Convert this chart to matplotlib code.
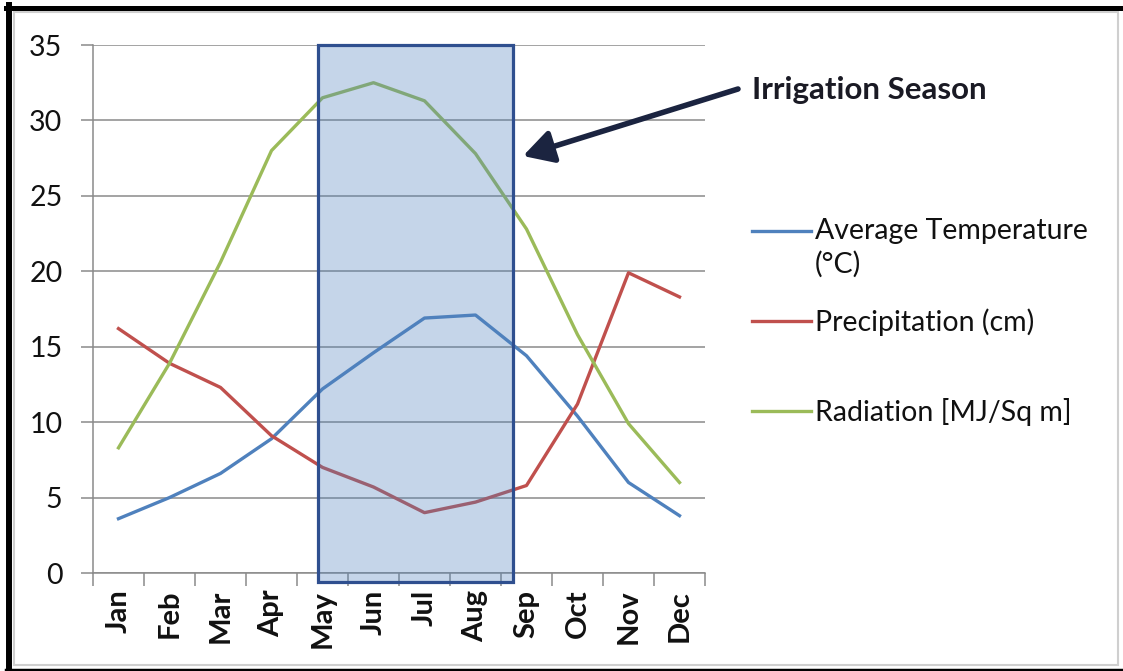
import matplotlib.pyplot as plt
from matplotlib.patches import Rectangle, FancyArrowPatch
from matplotlib.lines import Line2D

plt.rcParams['font.family'] = ['Lato', 'DejaVu Sans']

months = ['Jan', 'Feb', 'Mar', 'Apr', 'May', 'Jun',
          'Jul', 'Aug', 'Sep', 'Oct', 'Nov', 'Dec']
temperature = [3.6, 5.0, 6.6, 8.9, 12.2, 14.6, 16.9, 17.1, 14.4, 10.4, 6.0, 3.8]
precipitation = [16.2, 13.9, 12.3, 9.1, 7.0, 5.7, 4.0, 4.7, 5.8, 11.2, 19.9, 18.3]
radiation = [8.3, 13.9, 20.6, 28.0, 31.5, 32.5, 31.3, 27.8, 22.8, 15.8, 9.9, 6.0]

series_labels = ['Average Temperature\n(°C)', 'Precipitation (cm)', 'Radiation [MJ/Sq m]']
series_colors = ['#4F81BD', '#C0504D', '#9BBB59']

W, H = 1123, 671
fig = plt.figure(figsize=(W / 100, H / 100), dpi=100)
fig.patch.set_facecolor('white')

def fx(px):
    return px / W

def fy(py):
    return 1 - py / H

ax = fig.add_axes([fx(93), fy(573), fx(705) - fx(93), fy(45) - fy(573)])

x = list(range(len(months)))
for vals, col in zip([temperature, precipitation, radiation], series_colors):
    ax.plot(x, vals, color=col, lw=2.4, solid_joinstyle='round', zorder=3)

ax.set_xlim(-0.5, 11.5)
ax.set_ylim(0, 35)
ax.set_yticks(range(0, 36, 5))
ax.yaxis.grid(True, color='#8a8a8a', lw=1.1)
ax.set_axisbelow(True)
ax.set_xticks(x)
ax.set_xticklabels(months, rotation=90, fontsize=21, fontweight='bold', color='#111111')
ax.set_xticks([i - 0.5 for i in range(13)], minor=True)
ax.tick_params(axis='x', which='major', length=0, pad=12)
ax.tick_params(axis='x', which='minor', length=9, color='#8a8a8a', width=1.1)
ax.tick_params(axis='y', length=9, color='#8a8a8a', width=1.1, pad=13,
               labelsize=20.5, labelcolor='#111111')
for side in ['top', 'right']:
    ax.spines[side].set_visible(False)
for side in ['left', 'bottom']:
    ax.spines[side].set_color('#8a8a8a')
    ax.spines[side].set_linewidth(1.1)

# irrigation season box, overlaid on the lines
season = Rectangle((3.92, -0.6), 7.73 - 3.92, 35.6, facecolor='#4F81BD', alpha=0.33,
                   edgecolor='none', zorder=5, clip_on=False)
ax.add_patch(season)
ax.add_patch(Rectangle((3.92, -0.6), 7.73 - 3.92, 35.6, facecolor='none',
                       edgecolor='#2F4F8F', lw=2.3, zorder=6, clip_on=False))

arrow = FancyArrowPatch((fx(738), fy(89)), (fx(523), fy(156)), transform=fig.transFigure,
                        arrowstyle='-|>,head_length=0.9,head_width=0.5', mutation_scale=20,
                        color='#1B2440', lw=4, shrinkA=0, shrinkB=0)
fig.add_artist(arrow)
fig.text(fx(752), fy(90), 'Irrigation Season', fontsize=22.5, fontweight='bold',
         color='#1a1a24', va='center', ha='left')

# legend drawn by hand so the first handle sits on the first text line
legend_y = [231, 321, 411]
for lab, col, ly in zip(series_labels, series_colors, legend_y):
    fig.add_artist(Line2D([fx(752), fx(811)], [fy(ly), fy(ly)], color=col, lw=2.4))
    fig.text(fx(815), fy(ly - 13), lab, fontsize=20.5, color='#111111', va='top',
             ha='left', linespacing=1.3, transform=fig.transFigure)

# outer frame
fig.add_artist(Line2D([fx(6), fx(1123)], [fy(7.5), fy(7.5)], color='black', lw=3.6))
fig.add_artist(Line2D([fx(9), fx(9)], [fy(5), fy(671)], color='black', lw=4.3))
fig.add_artist(Line2D([fx(6), fx(1123)], [fy(669.5), fy(669.5)], color='black', lw=2.5))
fig.add_artist(Rectangle((fx(14), fy(665)), fx(1118) - fx(14), fy(12) - fy(665),
                         transform=fig.transFigure, facecolor='none',
                         edgecolor='#cfcfcf', lw=1.5))

fig.savefig('out.png', dpi=100)
